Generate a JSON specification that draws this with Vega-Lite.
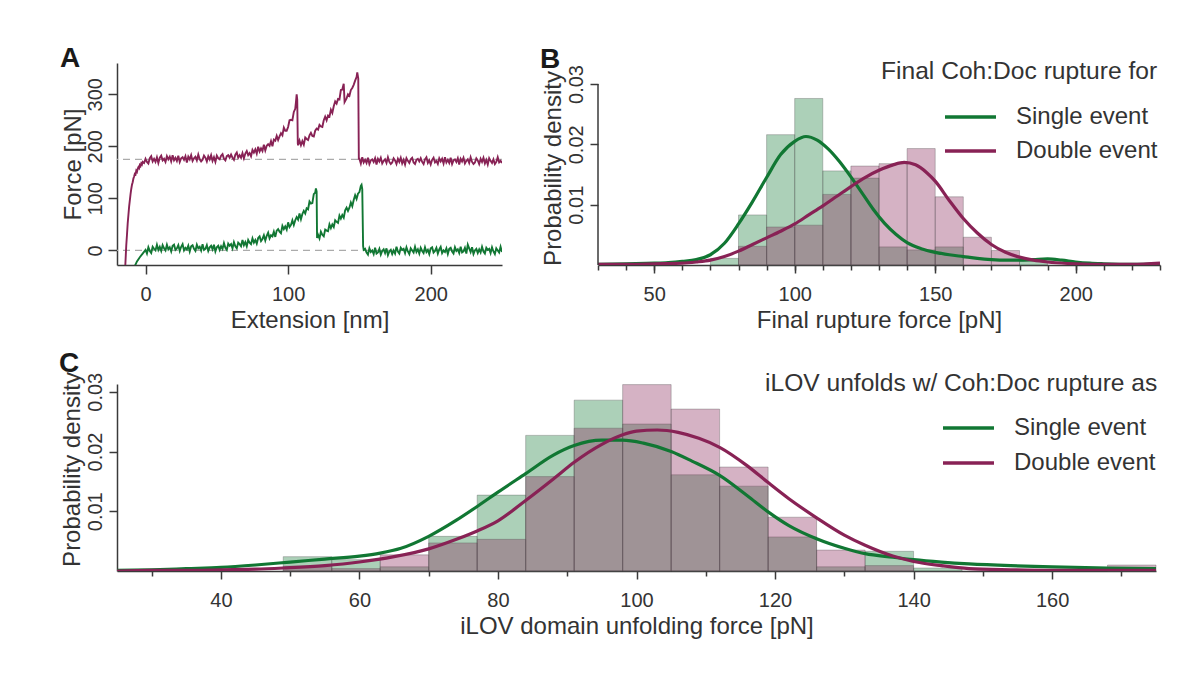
{
"$schema": "https://vega.github.io/schema/vega-lite/v6.json",
"padding": {"left": 59, "top": 45, "right": 10, "bottom": 10},
"background": "white",
"align": "all",
"spacing": 17,
"resolve": {"scale": {"color": "independent"}, "legend": {"color": "independent"}},
"config": {
  "font": "Liberation Sans",
  "view": {"stroke": null},
  "axis": {"domainColor": "#3a3a3a", "tickColor": "#3a3a3a", "domainWidth": 1.5, "tickWidth": 1.5, "labelColor": "#333333", "titleColor": "#333333", "labelFontSize": 20, "titleFontSize": 24, "titleFontWeight": "normal", "labelFont": "Liberation Sans", "titleFont": "Liberation Sans", "grid": false, "labelOverlap": false, "labelFlush": false},
  "legend": {"labelFont": "Liberation Sans", "titleFont": "Liberation Sans"},
  "title": {"font": "Liberation Sans", "fontSize": 28, "fontWeight": "bold", "color": "#1a1a1a", "anchor": "start", "frame": "group", "baseline": "alphabetic"}
},
"datasets": {
  "a_ref": [{"force": 0}, {"force": 175}],
  "a_single": [
{"ext":-7.5,"force":-30},{"ext":-6,"force":-21},{"ext":-4,"force":-13},{"ext":-2,"force":-6},
{"ext":0,"force":1},{"ext":1,"force":-6},{"ext":2,"force":6},{"ext":3,"force":-1},{"ext":4,"force":-5},{"ext":5,"force":7},{"ext":6,"force":3},{"ext":7,"force":0},{"ext":8,"force":11},{"ext":9,"force":1},
{"ext":10,"force":7},{"ext":11,"force":-1},{"ext":12,"force":10},{"ext":13,"force":4},{"ext":14,"force":0},{"ext":15,"force":11},{"ext":16,"force":2},{"ext":17,"force":6},{"ext":18,"force":-2},{"ext":19,"force":9},
{"ext":20,"force":11},{"ext":21,"force":1},{"ext":22,"force":4},{"ext":23,"force":10},{"ext":24,"force":-1},{"ext":25,"force":7},{"ext":26,"force":12},{"ext":27,"force":0},{"ext":28,"force":5},{"ext":29,"force":2},
{"ext":30,"force":9},{"ext":31,"force":-2},{"ext":32,"force":8},{"ext":33,"force":10},{"ext":34,"force":3},{"ext":35,"force":-1},{"ext":36,"force":11},{"ext":37,"force":4},{"ext":38,"force":7},{"ext":39,"force":0},
{"ext":40,"force":12},{"ext":41,"force":1},{"ext":42,"force":3},{"ext":43,"force":10},{"ext":44,"force":-1},{"ext":45,"force":6},{"ext":46,"force":9},{"ext":47,"force":2},{"ext":48,"force":11},{"ext":49,"force":-2},
{"ext":50,"force":6},{"ext":51,"force":9},{"ext":52,"force":1},{"ext":53,"force":8},{"ext":54,"force":3},{"ext":55,"force":14},{"ext":56,"force":5},{"ext":57,"force":1},{"ext":58,"force":13},{"ext":59,"force":9},
{"ext":60,"force":12},{"ext":61,"force":4},{"ext":62,"force":16},{"ext":63,"force":8},{"ext":64,"force":4},{"ext":65,"force":15},{"ext":66,"force":12},{"ext":67,"force":8},{"ext":68,"force":20},{"ext":69,"force":10},
{"ext":70,"force":16},{"ext":71,"force":8},{"ext":72,"force":20},{"ext":73,"force":15},{"ext":74,"force":12},{"ext":75,"force":23},{"ext":76,"force":15},{"ext":77,"force":20},{"ext":78,"force":13},{"ext":79,"force":24},
{"ext":80,"force":27},{"ext":81,"force":18},{"ext":82,"force":22},{"ext":83,"force":29},{"ext":84,"force":19},{"ext":85,"force":28},{"ext":86,"force":34},{"ext":87,"force":23},{"ext":88,"force":29},{"ext":89,"force":27},
{"ext":90,"force":36},{"ext":91,"force":26},{"ext":92,"force":38},{"ext":93,"force":41},{"ext":94,"force":36},{"ext":95,"force":33},{"ext":96,"force":47},{"ext":97,"force":41},{"ext":98,"force":46},{"ext":99,"force":40},
{"ext":100,"force":54},{"ext":101,"force":45},{"ext":102,"force":49},{"ext":103,"force":58},{"ext":104,"force":49},{"ext":105,"force":58},{"ext":106,"force":64},{"ext":107,"force":59},{"ext":108,"force":71},{"ext":109,"force":60},
{"ext":110,"force":70},{"ext":111,"force":76},{"ext":112,"force":71},{"ext":113,"force":81},{"ext":114,"force":79},{"ext":115,"force":94},{"ext":116,"force":90},{"ext":117,"force":91},{"ext":118,"force":108},{"ext":119,"force":111},
{"ext":119.5,"force":119},{"ext":120,"force":113},{"ext":120.3,"force":24},
{"ext":121,"force":30},{"ext":122,"force":23},{"ext":123,"force":36},{"ext":124,"force":30},{"ext":125,"force":27},{"ext":126,"force":40},{"ext":127,"force":38},{"ext":128,"force":37},{"ext":129,"force":50},
{"ext":130,"force":43},{"ext":131,"force":50},{"ext":132,"force":45},{"ext":133,"force":58},{"ext":134,"force":55},{"ext":135,"force":53},{"ext":136,"force":67},{"ext":137,"force":61},{"ext":138,"force":68},{"ext":139,"force":63},
{"ext":140,"force":77},{"ext":141,"force":82},{"ext":142,"force":76},{"ext":143,"force":82},{"ext":144,"force":92},{"ext":145,"force":85},{"ext":146,"force":97},{"ext":147,"force":106},{"ext":148,"force":99},{"ext":149,"force":109},
{"ext":150,"force":112},{"ext":151,"force":124},{"ext":151.5,"force":126},{"ext":152,"force":118},{"ext":152.6,"force":8},
{"ext":153,"force":1},{"ext":154,"force":3},{"ext":155,"force":-4},{"ext":156,"force":-8},{"ext":157,"force":4},{"ext":158,"force":-3},{"ext":159,"force":0},
{"ext":160,"force":-7},{"ext":161,"force":5},{"ext":162,"force":-6},{"ext":163,"force":-4},{"ext":164,"force":3},{"ext":165,"force":-8},{"ext":166,"force":-1},{"ext":167,"force":2},{"ext":168,"force":-5},{"ext":169,"force":4},
{"ext":170,"force":-9},{"ext":171,"force":-2},{"ext":172,"force":1},{"ext":173,"force":-7},{"ext":174,"force":0},{"ext":175,"force":-6},{"ext":176,"force":7},{"ext":177,"force":-2},{"ext":178,"force":-6},{"ext":179,"force":5},
{"ext":180,"force":1},{"ext":181,"force":3},{"ext":182,"force":-5},{"ext":183,"force":6},{"ext":184,"force":-2},{"ext":185,"force":-7},{"ext":186,"force":4},{"ext":187,"force":0},{"ext":188,"force":-4},{"ext":189,"force":7},
{"ext":190,"force":-3},{"ext":191,"force":2},{"ext":192,"force":-6},{"ext":193,"force":5},{"ext":194,"force":-1},{"ext":195,"force":-5},{"ext":196,"force":6},{"ext":197,"force":-3},{"ext":198,"force":1},{"ext":199,"force":-7},
{"ext":200,"force":4},{"ext":201,"force":6},{"ext":202,"force":-4},{"ext":203,"force":-1},{"ext":204,"force":5},{"ext":205,"force":-6},{"ext":206,"force":2},{"ext":207,"force":7},{"ext":208,"force":-5},{"ext":209,"force":0},
{"ext":210,"force":-3},{"ext":211,"force":4},{"ext":212,"force":-7},{"ext":213,"force":3},{"ext":214,"force":5},{"ext":215,"force":-2},{"ext":216,"force":-6},{"ext":217,"force":6},{"ext":218,"force":-1},{"ext":219,"force":2},
{"ext":220,"force":-5},{"ext":221,"force":7},{"ext":222,"force":-4},{"ext":223,"force":-2},{"ext":224,"force":5},{"ext":225,"force":-6},{"ext":226,"force":11},{"ext":227,"force":4},{"ext":228,"force":-3},{"ext":229,"force":6},
{"ext":230,"force":-7},{"ext":231,"force":0},{"ext":232,"force":3},{"ext":233,"force":-5},{"ext":234,"force":2},{"ext":235,"force":-4},{"ext":236,"force":7},{"ext":237,"force":-2},{"ext":238,"force":-6},{"ext":239,"force":5},
{"ext":240,"force":1},{"ext":241,"force":3},{"ext":242,"force":-5},{"ext":243,"force":6},{"ext":244,"force":-2},{"ext":245,"force":-7},{"ext":246,"force":4},{"ext":247,"force":0},{"ext":248,"force":-4},{"ext":249,"force":7},{"ext":250,"force":-3}
  ],
  "a_double": [
{"ext":-14.2,"force":-30},{"ext":-13.5,"force":10},{"ext":-13,"force":30},{"ext":-12.5,"force":52},{"ext":-12,"force":68},{"ext":-11.5,"force":84},{"ext":-11,"force":96},{"ext":-10.5,"force":108},{"ext":-10,"force":118},{"ext":-9.5,"force":126},{"ext":-9,"force":131},{"ext":-8.5,"force":138},{"ext":-8,"force":142},{"ext":-7.5,"force":147},{"ext":-7,"force":146},{"ext":-6.5,"force":153},{"ext":-6,"force":151},{"ext":-5.5,"force":157},{"ext":-5,"force":160},{"ext":-4.5,"force":158},{"ext":-4,"force":164},{"ext":-3.5,"force":162},{"ext":-3,"force":167},{"ext":-2.5,"force":165},{"ext":-2,"force":170},{"ext":-1,"force":168},
{"ext":0,"force":176},{"ext":1,"force":170},{"ext":2,"force":167},{"ext":3,"force":177},{"ext":4,"force":181},{"ext":5,"force":171},{"ext":6,"force":176},{"ext":7,"force":170},{"ext":8,"force":179},{"ext":9,"force":168},
{"ext":10,"force":178},{"ext":11,"force":182},{"ext":12,"force":173},{"ext":13,"force":176},{"ext":14,"force":170},{"ext":15,"force":181},{"ext":16,"force":175},{"ext":17,"force":180},{"ext":18,"force":171},{"ext":19,"force":183},
{"ext":20,"force":173},{"ext":21,"force":178},{"ext":22,"force":172},{"ext":23,"force":182},{"ext":24,"force":170},{"ext":25,"force":177},{"ext":26,"force":179},{"ext":27,"force":174},{"ext":28,"force":181},{"ext":29,"force":169},
{"ext":30,"force":180},{"ext":31,"force":175},{"ext":32,"force":183},{"ext":33,"force":172},{"ext":34,"force":177},{"ext":35,"force":180},{"ext":36,"force":173},{"ext":37,"force":184},{"ext":38,"force":175},{"ext":39,"force":171},
{"ext":40,"force":174},{"ext":41,"force":182},{"ext":42,"force":178},{"ext":43,"force":171},{"ext":44,"force":181},{"ext":45,"force":175},{"ext":46,"force":183},{"ext":47,"force":172},{"ext":48,"force":179},{"ext":49,"force":170},
{"ext":50,"force":182},{"ext":51,"force":177},{"ext":52,"force":175},{"ext":53,"force":182},{"ext":54,"force":185},{"ext":55,"force":176},{"ext":56,"force":173},{"ext":57,"force":181},{"ext":58,"force":183},{"ext":59,"force":178},
{"ext":60,"force":184},{"ext":61,"force":178},{"ext":62,"force":174},{"ext":63,"force":184},{"ext":64,"force":188},{"ext":65,"force":178},{"ext":66,"force":183},{"ext":67,"force":178},{"ext":68,"force":187},{"ext":69,"force":177},
{"ext":70,"force":186},{"ext":71,"force":191},{"ext":72,"force":183},{"ext":73,"force":187},{"ext":74,"force":181},{"ext":75,"force":193},{"ext":76,"force":188},{"ext":77,"force":194},{"ext":78,"force":186},{"ext":79,"force":199},
{"ext":80,"force":190},{"ext":81,"force":196},{"ext":82,"force":191},{"ext":83,"force":203},{"ext":84,"force":192},{"ext":85,"force":201},{"ext":86,"force":204},{"ext":87,"force":201},{"ext":88,"force":210},{"ext":89,"force":200},
{"ext":90,"force":213},{"ext":91,"force":211},{"ext":92,"force":220},{"ext":93,"force":212},{"ext":94,"force":219},{"ext":95,"force":225},{"ext":96,"force":221},{"ext":97,"force":236},{"ext":98,"force":230},{"ext":99,"force":230},
{"ext":100,"force":237},{"ext":101,"force":250},{"ext":102,"force":251},{"ext":103,"force":250},{"ext":104,"force":266},{"ext":105,"force":272},{"ext":105.5,"force":285},{"ext":106,"force":300},{"ext":106.4,"force":290},{"ext":106.8,"force":205},
{"ext":107,"force":202},{"ext":108,"force":211},{"ext":109,"force":202},{"ext":110,"force":210},{"ext":111,"force":203},{"ext":112,"force":217},{"ext":113,"force":214},{"ext":114,"force":212},{"ext":115,"force":221},{"ext":116,"force":226},
{"ext":117,"force":220},{"ext":118,"force":219},{"ext":119,"force":230},{"ext":120,"force":234},{"ext":121,"force":232},{"ext":122,"force":241},{"ext":123,"force":238},{"ext":124,"force":237},{"ext":125,"force":250},{"ext":126,"force":257},
{"ext":127,"force":250},{"ext":128,"force":259},{"ext":129,"force":257},{"ext":130,"force":270},{"ext":131,"force":264},{"ext":132,"force":277},{"ext":133,"force":286},{"ext":134,"force":282},{"ext":135,"force":291},{"ext":136,"force":290},
{"ext":137,"force":308},{"ext":138,"force":309},{"ext":139,"force":320},{"ext":139.6,"force":285},{"ext":140,"force":287},{"ext":141,"force":292},{"ext":142,"force":300},{"ext":143,"force":297},{"ext":144,"force":308},{"ext":145,"force":312},
{"ext":146,"force":318},{"ext":147,"force":326},{"ext":148,"force":333},{"ext":148.5,"force":342},{"ext":149.2,"force":330},{"ext":149.6,"force":176},
{"ext":150,"force":176},{"ext":151,"force":167},{"ext":152,"force":179},{"ext":153,"force":169},{"ext":154,"force":174},{"ext":155,"force":168},{"ext":156,"force":178},{"ext":157,"force":166},{"ext":158,"force":173},{"ext":159,"force":175},
{"ext":160,"force":170},{"ext":161,"force":177},{"ext":162,"force":165},{"ext":163,"force":176},{"ext":164,"force":171},{"ext":165,"force":178},{"ext":166,"force":167},{"ext":167,"force":172},{"ext":168,"force":175},{"ext":169,"force":168},
{"ext":170,"force":179},{"ext":171,"force":170},{"ext":172,"force":166},{"ext":173,"force":169},{"ext":174,"force":177},{"ext":175,"force":173},{"ext":176,"force":166},{"ext":177,"force":176},{"ext":178,"force":170},{"ext":179,"force":178},
{"ext":180,"force":167},{"ext":181,"force":174},{"ext":182,"force":165},{"ext":183,"force":177},{"ext":184,"force":172},{"ext":185,"force":168},{"ext":186,"force":175},{"ext":187,"force":178},{"ext":188,"force":169},{"ext":189,"force":166},
{"ext":190,"force":174},{"ext":191,"force":176},{"ext":192,"force":171},{"ext":193,"force":177},{"ext":194,"force":170},{"ext":195,"force":166},{"ext":196,"force":175},{"ext":197,"force":179},{"ext":198,"force":168},{"ext":199,"force":173},
{"ext":200,"force":165},{"ext":201,"force":174},{"ext":202,"force":178},{"ext":203,"force":169},{"ext":204,"force":172},{"ext":205,"force":166},{"ext":206,"force":177},{"ext":207,"force":171},{"ext":208,"force":176},{"ext":209,"force":167},
{"ext":210,"force":179},{"ext":211,"force":169},{"ext":212,"force":174},{"ext":213,"force":168},{"ext":214,"force":178},{"ext":215,"force":166},{"ext":216,"force":173},{"ext":217,"force":175},{"ext":218,"force":170},{"ext":219,"force":177},
{"ext":220,"force":165},{"ext":221,"force":176},{"ext":222,"force":171},{"ext":223,"force":178},{"ext":224,"force":167},{"ext":225,"force":172},{"ext":226,"force":175},{"ext":227,"force":168},{"ext":228,"force":179},{"ext":229,"force":170},
{"ext":230,"force":166},{"ext":231,"force":169},{"ext":232,"force":177},{"ext":233,"force":173},{"ext":234,"force":166},{"ext":235,"force":176},{"ext":236,"force":170},{"ext":237,"force":178},{"ext":238,"force":167},{"ext":239,"force":174},
{"ext":240,"force":165},{"ext":241,"force":177},{"ext":242,"force":172},{"ext":243,"force":168},{"ext":244,"force":175},{"ext":245,"force":166},{"ext":246,"force":170},{"ext":247,"force":179},{"ext":248,"force":169},{"ext":249,"force":172},{"ext":250,"force":168}
  ],
  "b_single_hist": [
{"lo":70,"hi":80,"density":0.0011},{"lo":80,"hi":90,"density":0.0083},{"lo":90,"hi":100,"density":0.0216},{"lo":100,"hi":110,"density":0.0276},{"lo":110,"hi":120,"density":0.0156},{"lo":120,"hi":130,"density":0.0144},{"lo":130,"hi":140,"density":0.003},{"lo":140,"hi":150,"density":0.0025},{"lo":150,"hi":160,"density":0.003},{"lo":180,"hi":190,"density":0.0006}
  ],
  "b_double_hist": [
{"lo":80,"hi":90,"density":0.0031},{"lo":90,"hi":100,"density":0.0063},{"lo":100,"hi":110,"density":0.0066},{"lo":110,"hi":120,"density":0.0117},{"lo":120,"hi":130,"density":0.0164},{"lo":130,"hi":140,"density":0.0168},{"lo":140,"hi":150,"density":0.0193},{"lo":150,"hi":160,"density":0.0113},{"lo":160,"hi":170,"density":0.0046},{"lo":170,"hi":180,"density":0.0024}
  ],
  "b_kde": [
{"event":"Single event","force":30,"density":0.0001},{"event":"Single event","force":40,"density":0.0002},{"event":"Single event","force":50,"density":0.0003},{"event":"Single event","force":55,"density":0.0004},{"event":"Single event","force":60,"density":0.0006},{"event":"Single event","force":65,"density":0.0009},{"event":"Single event","force":70,"density":0.0017},{"event":"Single event","force":75,"density":0.0036},{"event":"Single event","force":80,"density":0.0068},{"event":"Single event","force":85,"density":0.0105},{"event":"Single event","force":90,"density":0.0145},{"event":"Single event","force":95,"density":0.0183},{"event":"Single event","force":100,"density":0.0205},{"event":"Single event","force":104,"density":0.0213},{"event":"Single event","force":108,"density":0.0207},{"event":"Single event","force":112,"density":0.0192},{"event":"Single event","force":116,"density":0.0171},{"event":"Single event","force":120,"density":0.0146},{"event":"Single event","force":124,"density":0.0119},{"event":"Single event","force":128,"density":0.0092},{"event":"Single event","force":132,"density":0.0069},{"event":"Single event","force":136,"density":0.0051},{"event":"Single event","force":140,"density":0.0037},{"event":"Single event","force":145,"density":0.0027},{"event":"Single event","force":150,"density":0.0021},{"event":"Single event","force":155,"density":0.0017},{"event":"Single event","force":160,"density":0.0014},{"event":"Single event","force":165,"density":0.0011},{"event":"Single event","force":170,"density":0.0009},{"event":"Single event","force":175,"density":0.0008},{"event":"Single event","force":180,"density":0.0008},{"event":"Single event","force":185,"density":0.0009},{"event":"Single event","force":190,"density":0.001},{"event":"Single event","force":195,"density":0.0008},{"event":"Single event","force":200,"density":0.0005},{"event":"Single event","force":205,"density":0.0003},{"event":"Single event","force":210,"density":0.0002},{"event":"Single event","force":220,"density":0.0001},{"event":"Single event","force":230,"density":0.0002},
{"event":"Double event","force":30,"density":0.0001},{"event":"Double event","force":40,"density":0.0001},{"event":"Double event","force":50,"density":0.0002},{"event":"Double event","force":60,"density":0.0003},{"event":"Double event","force":65,"density":0.0005},{"event":"Double event","force":70,"density":0.0008},{"event":"Double event","force":75,"density":0.0014},{"event":"Double event","force":80,"density":0.0023},{"event":"Double event","force":85,"density":0.0034},{"event":"Double event","force":90,"density":0.0045},{"event":"Double event","force":95,"density":0.0056},{"event":"Double event","force":100,"density":0.0068},{"event":"Double event","force":105,"density":0.0083},{"event":"Double event","force":110,"density":0.0098},{"event":"Double event","force":115,"density":0.0114},{"event":"Double event","force":120,"density":0.013},{"event":"Double event","force":125,"density":0.0145},{"event":"Double event","force":130,"density":0.0157},{"event":"Double event","force":135,"density":0.0166},{"event":"Double event","force":139,"density":0.017},{"event":"Double event","force":143,"density":0.0166},{"event":"Double event","force":147,"density":0.0153},{"event":"Double event","force":150,"density":0.0139},{"event":"Double event","force":155,"density":0.0107},{"event":"Double event","force":160,"density":0.0077},{"event":"Double event","force":165,"density":0.0053},{"event":"Double event","force":170,"density":0.0034},{"event":"Double event","force":175,"density":0.0021},{"event":"Double event","force":180,"density":0.0013},{"event":"Double event","force":185,"density":0.0008},{"event":"Double event","force":190,"density":0.0005},{"event":"Double event","force":200,"density":0.0002},{"event":"Double event","force":210,"density":0.0001},{"event":"Double event","force":220,"density":0.0001},{"event":"Double event","force":230,"density":0.0003}
  ],
  "c_single_hist": [
{"lo":49,"hi":56,"density":0.0024},{"lo":56,"hi":63,"density":0.0019},{"lo":63,"hi":70,"density":0.0007},{"lo":70,"hi":77,"density":0.0058},{"lo":77,"hi":84,"density":0.0127},{"lo":84,"hi":91,"density":0.0227},{"lo":91,"hi":98,"density":0.0286},{"lo":98,"hi":105,"density":0.0246},{"lo":105,"hi":112,"density":0.0161},{"lo":112,"hi":119,"density":0.0142},{"lo":119,"hi":126,"density":0.0057},{"lo":126,"hi":133,"density":0.0007},{"lo":133,"hi":140,"density":0.0033},{"lo":140,"hi":147,"density":0.0005}
  ],
  "c_double_hist": [
{"lo":49,"hi":56,"density":0.0008},{"lo":56,"hi":63,"density":0.0004},{"lo":63,"hi":70,"density":0.0027},{"lo":70,"hi":77,"density":0.0047},{"lo":77,"hi":84,"density":0.0053},{"lo":84,"hi":91,"density":0.0158},{"lo":91,"hi":98,"density":0.0239},{"lo":98,"hi":105,"density":0.0312},{"lo":105,"hi":112,"density":0.0271},{"lo":112,"hi":119,"density":0.0174},{"lo":119,"hi":126,"density":0.009},{"lo":126,"hi":133,"density":0.0035},{"lo":133,"hi":140,"density":0.0009},{"lo":168,"hi":175,"density":0.001}
  ],
  "c_kde": [
{"event":"Single event","force":25,"density":0.0001},{"event":"Single event","force":30,"density":0.0002},{"event":"Single event","force":35,"density":0.0004},{"event":"Single event","force":40,"density":0.0006},{"event":"Single event","force":45,"density":0.001},{"event":"Single event","force":50,"density":0.0015},{"event":"Single event","force":55,"density":0.002},{"event":"Single event","force":60,"density":0.0025},{"event":"Single event","force":63,"density":0.003},{"event":"Single event","force":66,"density":0.0038},{"event":"Single event","force":70,"density":0.0058},{"event":"Single event","force":74,"density":0.0085},{"event":"Single event","force":77,"density":0.0108},{"event":"Single event","force":80,"density":0.0132},{"event":"Single event","force":84,"density":0.0163},{"event":"Single event","force":88,"density":0.0194},{"event":"Single event","force":91,"density":0.021},{"event":"Single event","force":95,"density":0.0219},{"event":"Single event","force":98,"density":0.0219},{"event":"Single event","force":101,"density":0.0214},{"event":"Single event","force":105,"density":0.02},{"event":"Single event","force":108,"density":0.0184},{"event":"Single event","force":112,"density":0.016},{"event":"Single event","force":116,"density":0.0126},{"event":"Single event","force":119,"density":0.0099},{"event":"Single event","force":122,"density":0.0076},{"event":"Single event","force":126,"density":0.0054},{"event":"Single event","force":130,"density":0.0038},{"event":"Single event","force":133,"density":0.0029},{"event":"Single event","force":137,"density":0.0023},{"event":"Single event","force":140,"density":0.0019},{"event":"Single event","force":144,"density":0.0015},{"event":"Single event","force":148,"density":0.0012},{"event":"Single event","force":154,"density":0.0009},{"event":"Single event","force":160,"density":0.0007},{"event":"Single event","force":168,"density":0.0005},{"event":"Single event","force":175,"density":0.0004},
{"event":"Double event","force":25,"density":0.0},{"event":"Double event","force":30,"density":0.0001},{"event":"Double event","force":35,"density":0.0001},{"event":"Double event","force":40,"density":0.0002},{"event":"Double event","force":45,"density":0.0003},{"event":"Double event","force":49,"density":0.0005},{"event":"Double event","force":55,"density":0.0009},{"event":"Double event","force":60,"density":0.0015},{"event":"Double event","force":65,"density":0.0024},{"event":"Double event","force":70,"density":0.0037},{"event":"Double event","force":74,"density":0.0053},{"event":"Double event","force":77,"density":0.0067},{"event":"Double event","force":80,"density":0.0084},{"event":"Double event","force":84,"density":0.0118},{"event":"Double event","force":88,"density":0.0154},{"event":"Double event","force":91,"density":0.0182},{"event":"Double event","force":95,"density":0.0212},{"event":"Double event","force":98,"density":0.0228},{"event":"Double event","force":100,"density":0.0234},{"event":"Double event","force":103,"density":0.0236},{"event":"Double event","force":106,"density":0.0232},{"event":"Double event","force":109,"density":0.0222},{"event":"Double event","force":112,"density":0.0207},{"event":"Double event","force":116,"density":0.0176},{"event":"Double event","force":119,"density":0.0148},{"event":"Double event","force":122,"density":0.0121},{"event":"Double event","force":126,"density":0.0089},{"event":"Double event","force":130,"density":0.006},{"event":"Double event","force":133,"density":0.0043},{"event":"Double event","force":137,"density":0.0025},{"event":"Double event","force":140,"density":0.0016},{"event":"Double event","force":144,"density":0.0009},{"event":"Double event","force":148,"density":0.0004},{"event":"Double event","force":154,"density":0.0002},{"event":"Double event","force":160,"density":0.0001},{"event":"Double event","force":175,"density":0.0001}
  ]
},
"vconcat": [
{
  "hconcat": [
  {
    "width": 385, "height": 202,
    "title": {"text": "A", "dx": -57, "dy": 10, "offset": 0},
    "resolve": {"axis": {"x": "independent", "y": "independent"}},
    "layer": [
      {"data": {"name": "a_ref"}, "mark": {"type": "rule", "strokeDash": [7, 5], "color": "#ababab", "strokeWidth": 1.3},
       "encoding": {"y": {"field": "force", "type": "quantitative", "scale": {"domain": [-28, 360], "nice": false},
         "axis": {"values": [0, 100, 200, 300], "tickSize": 9, "labelAngle": 270, "labelAlign": "center", "labelBaseline": "alphabetic", "labelPadding": 7, "title": "Force [pN]", "titleAngle": 270, "titleAlign": "center", "titleBaseline": "alphabetic", "titleX": -37, "titleY": 101}}}},
      {"data": {"name": "a_double"}, "mark": {"type": "line", "color": "#882255", "strokeWidth": 1.9, "clip": true},
       "encoding": {"x": {"field": "ext", "type": "quantitative", "scale": {"domain": [-20, 250], "nice": false},
         "axis": {"values": [0, 100, 200], "tickSize": 9, "labelBaseline": "alphabetic", "labelPadding": 26, "title": "Extension [nm]", "titleBaseline": "alphabetic", "titleX": 192.5, "titleY": 62}},
         "y": {"field": "force", "type": "quantitative", "axis": null}}},
      {"data": {"name": "a_single"}, "mark": {"type": "line", "color": "#117733", "strokeWidth": 1.9, "clip": true},
       "encoding": {"x": {"field": "ext", "type": "quantitative", "axis": null},
         "y": {"field": "force", "type": "quantitative", "axis": null}}}
    ]
  },
  {
    "width": 562, "height": 202,
    "title": {"text": "B", "dx": -58, "dy": 14, "offset": 0},
    "resolve": {"axis": {"x": "independent", "y": "independent"}},
    "layer": [
      {"data": {"name": "b_single_hist"}, "mark": {"type": "rect", "fill": "#117733", "fillOpacity": 0.35, "stroke": "#555555", "strokeOpacity": 0.35, "strokeWidth": 1},
       "encoding": {
         "x": {"field": "lo", "type": "quantitative", "scale": {"domain": [30, 230], "nice": false},
           "axis": {"orient": "bottom", "values": [50, 100, 150, 200], "tickSize": 8, "labelBaseline": "alphabetic", "labelPadding": 27, "title": "Final rupture force [pN]", "titleBaseline": "alphabetic", "titleX": 281, "titleY": 62}},
         "x2": {"field": "hi"},
         "y": {"field": "density", "type": "quantitative", "scale": {"domain": [0, 0.03348], "nice": false},
           "axis": {"values": [0.01, 0.02, 0.03], "format": ".2f", "domain": false, "tickSize": 8, "labelAngle": 270, "labelAlign": "center", "labelBaseline": "alphabetic", "labelPadding": 7.7, "title": "Probability density", "titleAngle": 270, "titleAlign": "center", "titleBaseline": "alphabetic", "titleX": -38, "titleY": 105}},
         "y2": {"datum": 0}}},
      {"data": {"name": "b_double_hist"}, "mark": {"type": "rect", "fill": "#882255", "fillOpacity": 0.35, "stroke": "#555555", "strokeOpacity": 0.35, "strokeWidth": 1},
       "encoding": {
         "x": {"field": "lo", "type": "quantitative", "axis": null},
         "x2": {"field": "hi"},
         "y": {"field": "density", "type": "quantitative", "axis": null},
         "y2": {"datum": 0}}},
      {"data": {"name": "b_kde"}, "mark": {"type": "line", "strokeWidth": 3.2, "interpolate": "monotone", "clip": true},
       "encoding": {
         "x": {"field": "force", "type": "quantitative",
           "axis": {"orient": "bottom", "values": [30, 40, 50, 60, 70, 80, 90, 100, 110, 120, 130, 140, 150, 160, 170, 180, 190, 200, 210, 220, 230], "tickSize": 5, "labels": false, "domain": false, "title": null}},
         "y": {"field": "density", "type": "quantitative", "axis": null},
         "color": {"field": "event", "type": "nominal", "scale": {"domain": ["Single event", "Double event"], "range": ["#117733", "#882255"]},
           "legend": {"orient": "none", "legendX": 283, "legendY": -3, "direction": "vertical", "title": "Final Coh:Doc rupture for", "titleFontSize": 24.6, "titleFontWeight": "normal", "titleColor": "#333333", "titleAnchor": "start", "titleBaseline": "top", "titlePadding": 18, "titleLimit": 600, "labelLimit": 400, "labelFontSize": 24, "labelColor": "#333333", "symbolType": "M-2,0H2", "symbolSize": 650, "symbolStrokeWidth": 3.5, "symbolOffset": 75, "labelOffset": 31, "rowPadding": 7, "padding": 0}}}},
      {"data": {"values": [{}]}, "mark": {"type": "rule", "color": "#3a3a3a", "strokeWidth": 1.5},
       "encoding": {
         "x": {"datum": 30, "type": "quantitative", "axis": null},
         "y": {"datum": 0, "type": "quantitative", "axis": null},
         "y2": {"datum": 0.03}}}
    ]
  }
  ],
  "spacing": 96,
  "bounds": "flush",
  "resolve": {"scale": {"color": "independent"}, "legend": {"color": "independent"}}
},
{
  "width": 1039, "height": 187,
  "title": {"text": "C", "dx": -58, "dy": 6, "offset": 0},
  "resolve": {"axis": {"x": "independent", "y": "independent"}},
  "layer": [
    {"data": {"name": "c_single_hist"}, "mark": {"type": "rect", "fill": "#117733", "fillOpacity": 0.35, "stroke": "#555555", "strokeOpacity": 0.35, "strokeWidth": 1},
     "encoding": {
       "x": {"field": "lo", "type": "quantitative", "scale": {"domain": [25, 175], "nice": false},
         "axis": {"orient": "bottom", "values": [40, 60, 80, 100, 120, 140, 160], "tickSize": 8, "labelBaseline": "alphabetic", "labelPadding": 27, "title": "iLOV domain unfolding force [pN]", "titleBaseline": "alphabetic", "titleX": 519.5, "titleY": 62}},
       "x2": {"field": "hi"},
       "y": {"field": "density", "type": "quantitative", "scale": {"domain": [0, 0.0313], "nice": false},
         "axis": {"values": [0.01, 0.02, 0.03], "format": ".2f", "tickSize": 8, "labelAngle": 270, "labelAlign": "center", "labelBaseline": "alphabetic", "labelPadding": 7.7, "title": "Probability density", "titleAngle": 270, "titleAlign": "center", "titleBaseline": "alphabetic", "titleX": -38, "titleY": 85}},
       "y2": {"datum": 0}}},
    {"data": {"name": "c_double_hist"}, "mark": {"type": "rect", "fill": "#882255", "fillOpacity": 0.35, "stroke": "#555555", "strokeOpacity": 0.35, "strokeWidth": 1},
     "encoding": {
       "x": {"field": "lo", "type": "quantitative", "axis": null},
       "x2": {"field": "hi"},
       "y": {"field": "density", "type": "quantitative", "axis": null},
       "y2": {"datum": 0}}},
    {"data": {"name": "c_kde"}, "mark": {"type": "line", "strokeWidth": 3.2, "interpolate": "monotone", "clip": true},
     "encoding": {
       "x": {"field": "force", "type": "quantitative",
         "axis": {"orient": "bottom", "values": [30, 50, 70, 90, 110, 130, 150, 170], "tickSize": 5, "labels": false, "domain": false, "title": null}},
       "y": {"field": "density", "type": "quantitative", "axis": null},
       "color": {"field": "event", "type": "nominal", "scale": {"domain": ["Single event", "Double event"], "range": ["#117733", "#882255"]},
         "legend": {"orient": "none", "legendX": 648, "legendY": -12, "direction": "vertical", "title": "iLOV unfolds w/ Coh:Doc rupture as", "titleFontSize": 24.6, "titleFontWeight": "normal", "titleColor": "#333333", "titleAnchor": "start", "titleBaseline": "top", "titlePadding": 17, "titleLimit": 600, "labelLimit": 400, "labelFontSize": 24, "labelColor": "#333333", "symbolType": "M-2,0H2", "symbolSize": 650, "symbolStrokeWidth": 3.5, "symbolOffset": 189, "labelOffset": 31, "rowPadding": 8, "padding": 0}}}}
  ]
}
]
}
